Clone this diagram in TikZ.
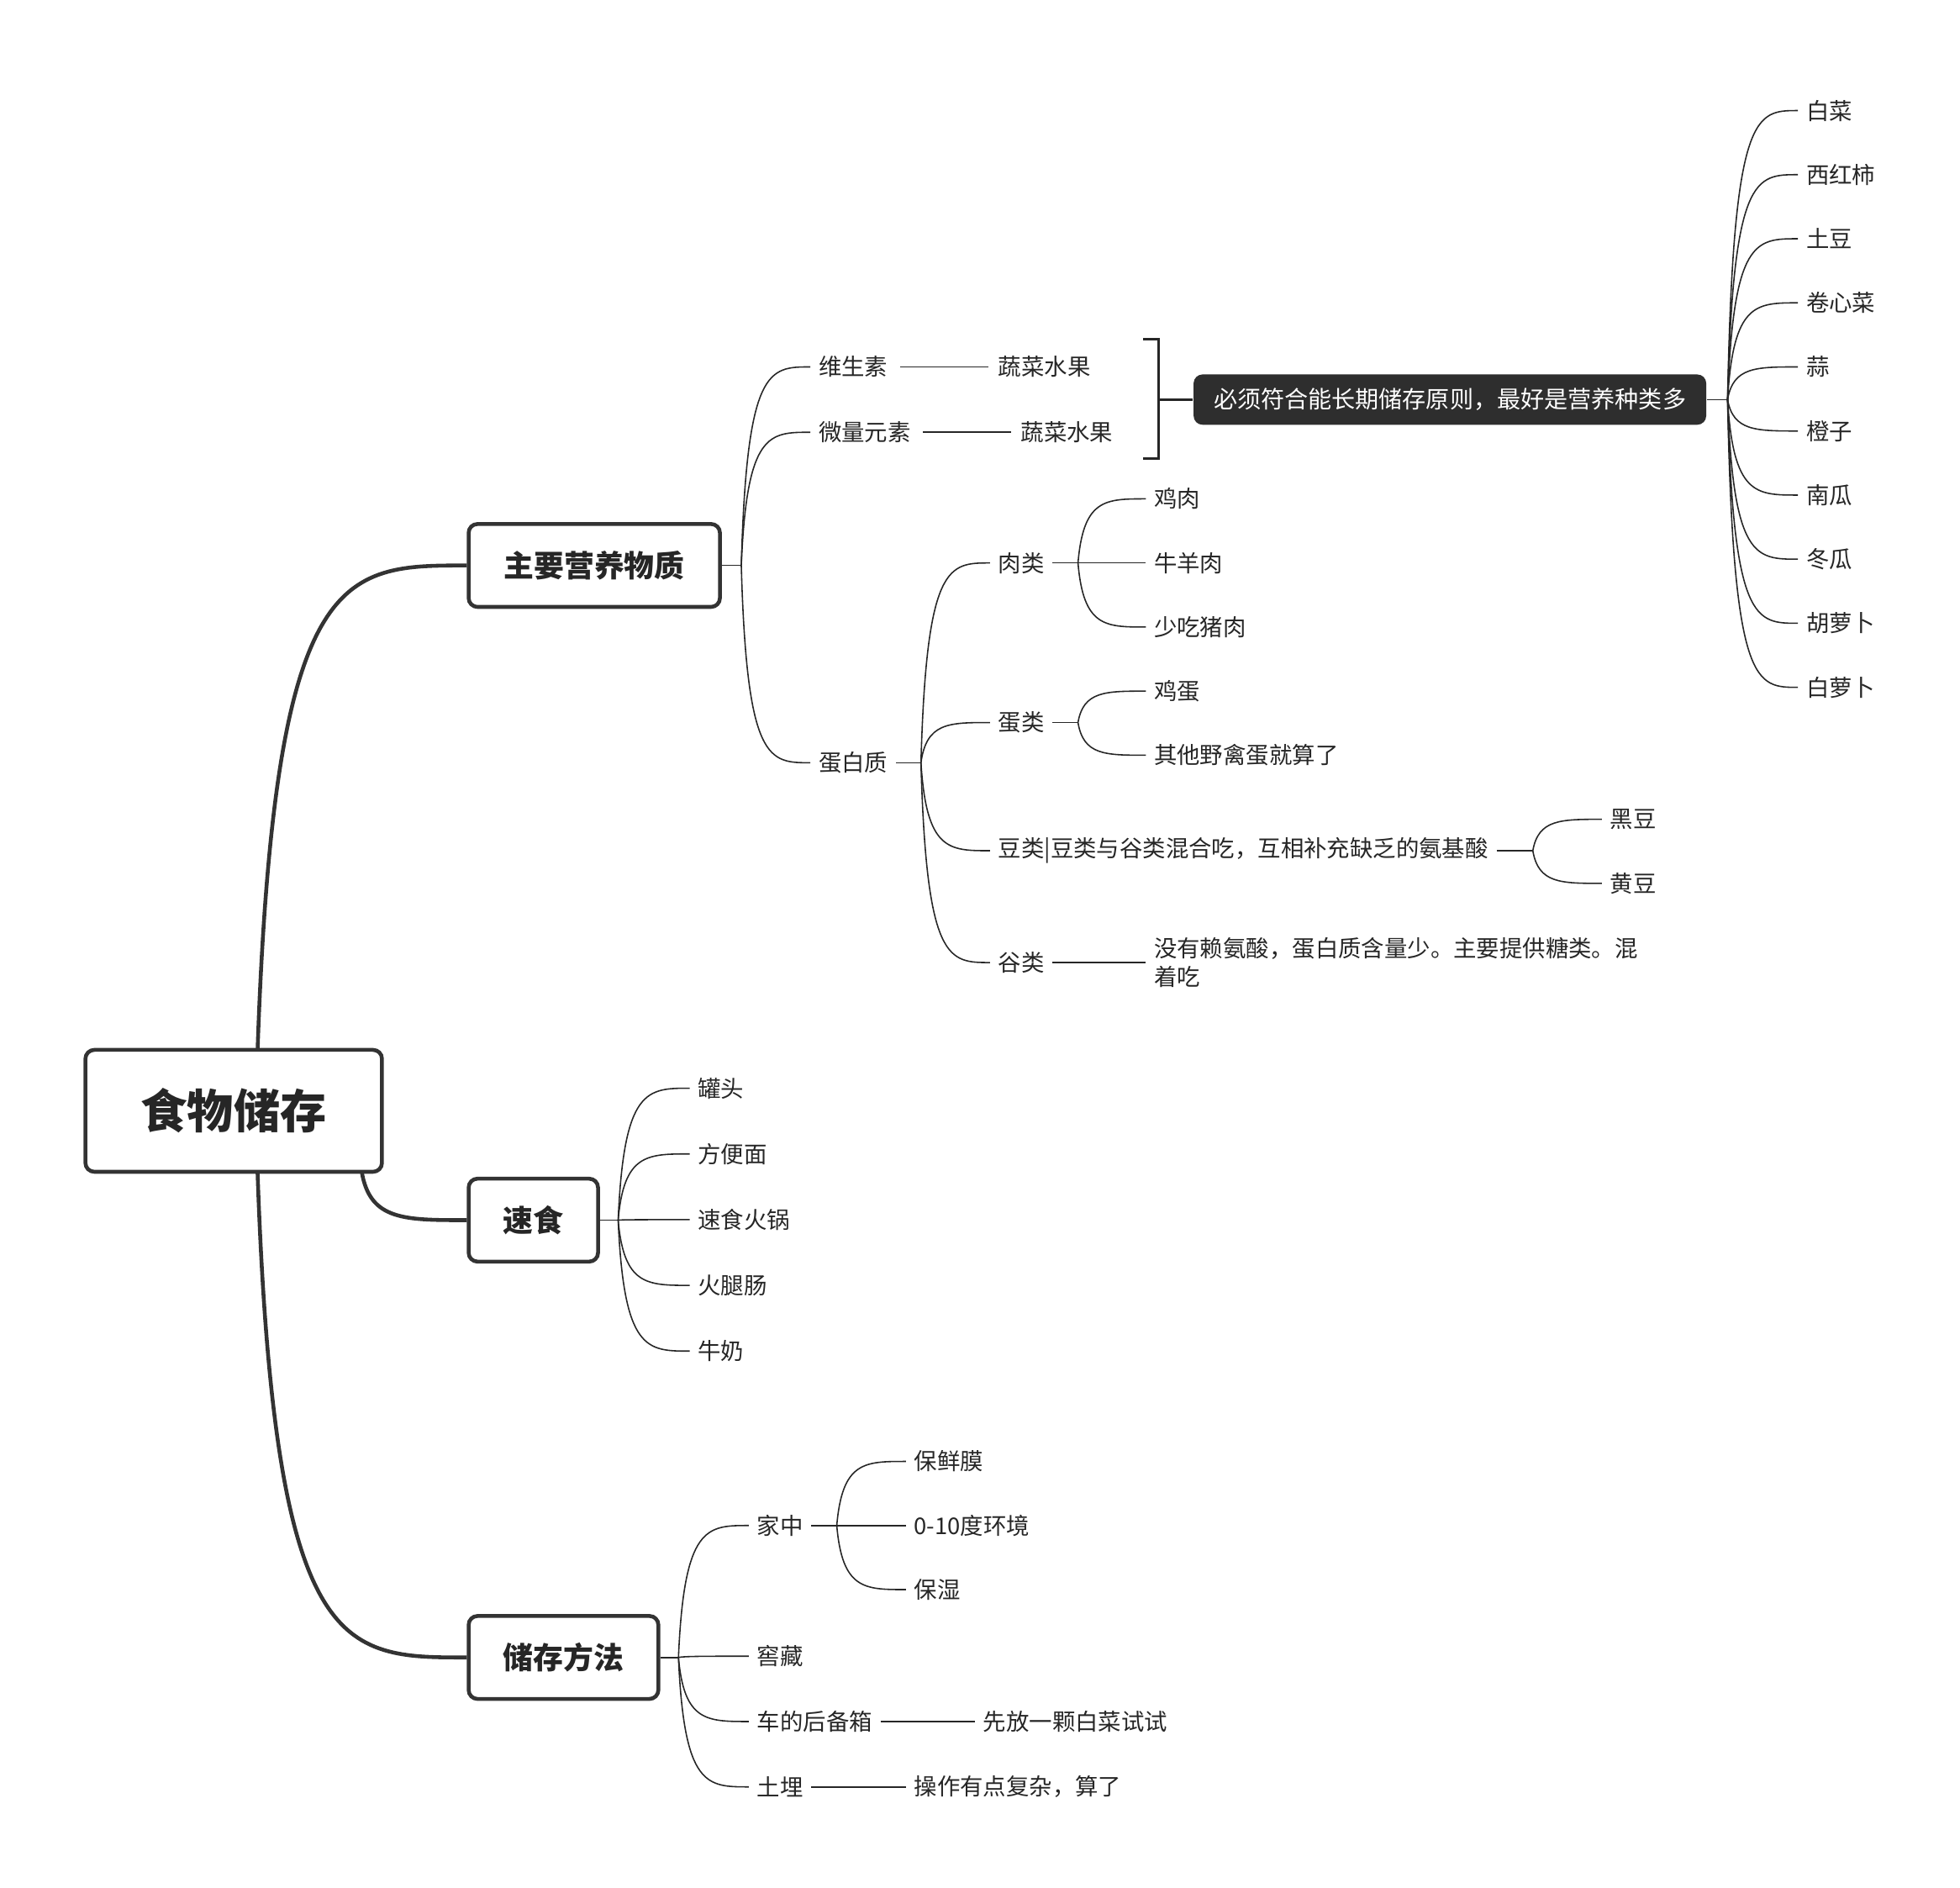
\documentclass[tikz,border=0pt]{standalone}
\usepackage{fontspec}
\setmainfont{Noto Sans CJK SC}
\usetikzlibrary{calc}
\begin{document}
\begin{tikzpicture}[x=0.01495cm,y=-0.01495cm,
  leaf/.style={anchor=west,inner xsep=2.6pt,inner ysep=2pt,font=\fontsize{7.8}{10}\selectfont,text=black!85},
  main/.style={draw=black!80,line width=1.3pt,rounded corners=3pt,fill=white,font=\fontsize{10.2}{12}\bfseries\selectfont,text=black!85,inner sep=0pt},
  ln/.style={draw=black!85,line width=0.45pt},
  thick/.style={draw=black!80,line width=1.3pt},
  tree/.style={to path={let \p1=(\tikztostart), \p2=(\tikztotarget) in .. controls ({0.92*\x1+0.08*\x2},\y2) and ({0.6*\x1+0.4*\x2},\y2) .. (\tikztotarget)}}
]
\useasboundingbox (0,0) rectangle (1560,1502);
% root and main branches
\node[main,minimum width=236*0.01495cm,minimum height=97*0.01495cm,font=\fontsize{15.7}{18}\bfseries\selectfont] (root) at (186,884) {食物储存};
\node[main,minimum width=200*0.01495cm,minimum height=66*0.01495cm] (m1) at (473,450) {主要营养物质};
\node[main,minimum width=103*0.01495cm,minimum height=66*0.01495cm] (m2) at (424.5,971) {速食};
\node[main,minimum width=151*0.01495cm,minimum height=66*0.01495cm] (m3) at (448.5,1319) {储存方法};
\coordinate (rt) at (205,836); \coordinate (rb) at (205,933); \coordinate (rb2) at (288,933);
\draw[thick] (rt) to[tree] (m1.west);
\draw[thick] (rb) to[tree] (m3.west);
\draw[thick] (rb2) to[tree] (m2.west);
% nutrition
\coordinate (j1) at (590,450);
\draw[ln] (m1.east) -- (j1);
\node[leaf] (wss) at (645,292) {维生素};
\node[leaf] (wlys) at (645,344) {微量元素};
\node[leaf] (dbz) at (645,607) {蛋白质};
\foreach \q in {wss,wlys,dbz} \draw[ln] (j1) to[tree] (\q.west);
\node[leaf] (sc1) at (788,292) {蔬菜水果};
\node[leaf] (sc2) at (806,344) {蔬菜水果};
\draw[ln] ($(wss.east)+(3,0)$) coordinate (a1) -- ($(sc1.west)+(-1,0)$);
\draw[ln] ($(wlys.east)+(3,0)$) coordinate (a2) -- ($(sc2.west)+(-1,0)$);
\draw[line width=0.9pt,draw=black!85] (910,270) -- (922,270) -- (922,365) -- (910,365);
\node[fill=black!82,text=white,rounded corners=3pt,minimum width=408*0.01495cm,minimum height=40*0.01495cm,inner sep=0pt,font=\fontsize{8}{10}\selectfont] (dark) at (1154,318) {必须符合能长期储存原则，最好是营养种类多};
\coordinate (bm) at (922,318);
\draw[line width=0.9pt,draw=black!85] (bm) -- (dark.west);
\coordinate (j2) at (1375,318);
\draw[ln] (dark.east) -- (j2);
\foreach \t [count=\i] in {白菜,西红柿,土豆,卷心菜,蒜,橙子,南瓜,冬瓜,胡萝卜,白萝卜}{
  \node[leaf] (v\i) at (1431,{88+51*(\i-1)}) {\t};
  \draw[ln] (j2) to[tree] (v\i.west);
}
% protein
\coordinate (j3) at (733,607);
\draw[ln] (dbz.east) -- (j3);
\node[leaf] (rl) at (788,448) {肉类};
\node[leaf] (dl) at (788,575) {蛋类};
\node[leaf] (dou) at (788,677) {豆类|豆类与谷类混合吃，互相补充缺乏的氨基酸};
\node[leaf] (gl) at (788,766) {谷类};
\foreach \q in {rl,dl,dou,gl} \draw[ln] (j3) to[tree] (\q.west);
\coordinate (j4) at (858,448);
\draw[ln] (rl.east) -- (j4);
\node[leaf] (r1) at (912,397) {鸡肉};
\node[leaf] (r2) at (912,448) {牛羊肉};
\node[leaf] (r3) at (912,499) {少吃猪肉};
\foreach \q in {r1,r2,r3} \draw[ln] (j4) to[tree] (\q.west);
\coordinate (j5) at (858,575);
\draw[ln] (dl.east) -- (j5);
\node[leaf] (e1) at (912,550) {鸡蛋};
\node[leaf] (e2) at (912,601) {其他野禽蛋就算了};
\foreach \q in {e1,e2} \draw[ln] (j5) to[tree] (\q.west);
\coordinate (j6) at (1220,677);
\draw[ln] (dou.east) -- (j6);
\node[leaf] (d1) at (1275,652) {黑豆};
\node[leaf] (d2) at (1275,703) {黄豆};
\foreach \q in {d1,d2} \draw[ln] (j6) to[tree] (\q.west);
\node[leaf,align=left,font=\fontsize{7.8}{9.6}\selectfont] (gt) at (912,766) {没有赖氨酸，蛋白质含量少。主要提供糖类。混\\着吃};
\draw[ln] (gl.east) -- (gt.west);
% fast food
\coordinate (j7) at (492,971);
\draw[ln] (m2.east) -- (j7);
\foreach \t [count=\i] in {罐头,方便面,速食火锅,火腿肠,牛奶}{
  \node[leaf] (f\i) at (549,{866+52.3*(\i-1)}) {\t};
  \draw[ln] (j7) to[tree] (f\i.west);
}
% storage
\coordinate (j8) at (540,1319);
\draw[ln] (m3.east) -- (j8);
\node[leaf] (s1) at (596,1214) {家中};
\node[leaf] (s2) at (596,1318) {窖藏};
\node[leaf] (s3) at (596,1370) {车的后备箱};
\node[leaf] (s4) at (596,1422) {土埋};
\foreach \q in {s1,s2,s3,s4} \draw[ln] (j8) to[tree] (\q.west);
\coordinate (j9) at (666,1214);
\draw[ln] (s1.east) -- (j9);
\node[leaf] (h1) at (721,1163) {保鲜膜};
\node[leaf] (h2) at (721,1214) {0-10度环境};
\node[leaf] (h3) at (721,1265) {保湿};
\foreach \q in {h1,h2,h3} \draw[ln] (j9) to[tree] (\q.west);
\node[leaf] (c1) at (776,1370) {先放一颗白菜试试};
\draw[ln] (s3.east) -- (c1.west);
\node[leaf] (t1) at (721,1422) {操作有点复杂，算了};
\draw[ln] (s4.east) -- (t1.west);
\end{tikzpicture}
\end{document}
